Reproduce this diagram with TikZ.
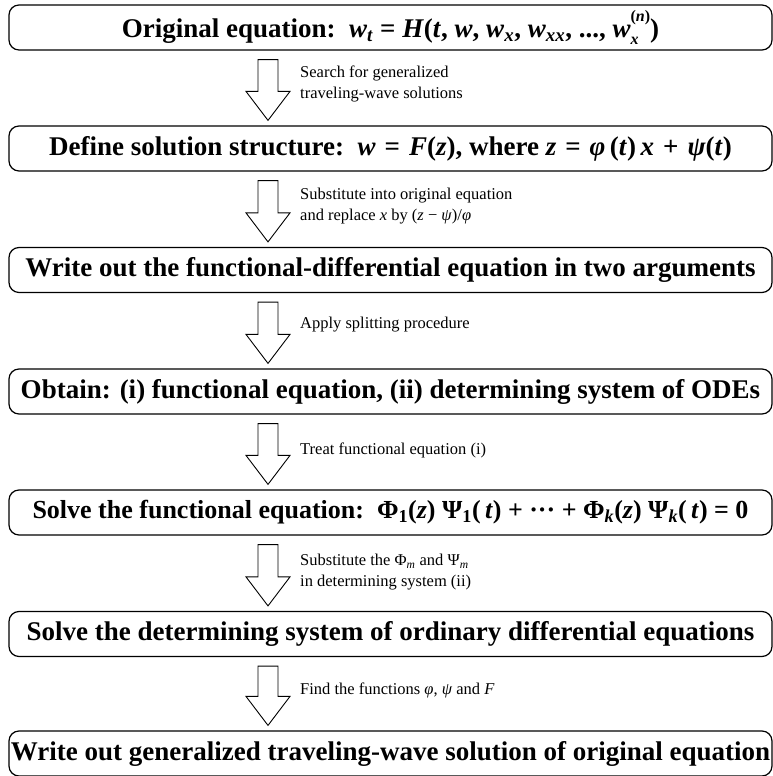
\documentclass[tikz,border=0pt]{standalone}
\usepackage{fontspec}
\setmainfont{Liberation Serif}
\usetikzlibrary{calc}
\newcommand\bi[1]{\textbf{\textit{#1}}}
\newcommand\SubSup[3]{#1\rlap{\raisebox{-0.28em}{\fontsize{16}{16}\selectfont #2}}\raisebox{0.6em}{\fontsize{16}{16}\selectfont #3}}
\newcommand\blockarrow[2]{%
  \draw[blockarr] let \p1=(#1.south), \p2=(#2.north) in
    (\AX-10pt,\y1-9pt) -- (\AX+10pt,\y1-9pt) -- (\AX+10pt,\y2+34pt)
    -- (\AX+22pt,\y2+34pt) -- (\AX,\y2+5pt) -- (\AX-22pt,\y2+34pt)
    -- (\AX-10pt,\y2+34pt) -- cycle;}
\def\AX{268pt}
\tikzset{
  box/.style={draw, line width=1.2pt, rounded corners=10pt, minimum width=763pt,
    minimum height=45pt, inner sep=0pt, font=\fontsize{27}{30}\selectfont\bfseries},
  blockarr/.style={draw, line width=0.9pt, fill=white, line join=miter},
  lab/.style={anchor=west, align=left, inner sep=0pt, font=\fontsize{16.5}{21}\selectfont}
}
\begin{document}
\begin{tikzpicture}[x=1pt,y=1pt]
\useasboundingbox (0,0) rectangle (773,776);
\node[box] (b1) at (390.5,748.5) {Original equation:\ \ \bi{w}\textsubscript{\bi{t}} = \bi{H}(\bi{t}, \bi{w}, \bi{w}\textsubscript{\bi{x}}, \bi{w}\textsubscript{\bi{xx}}, ..., \SubSup{\bi{w}}{\bi{x}}{(\bi{n})})};
\node[box] (b2) at (390.5,627.5) {Define solution structure:\ \ \bi{w}\,\,=\,\,\bi{F}(\bi{z}), where \bi{z}\,\,=\,\,\bi{φ}\,(\bi{t})\,\bi{x}\,\,+\,\,\bi{ψ}(\bi{t})};
\node[box] (b3) at (390.5,506) {Write out the functional-differential equation in two arguments};
\node[box] (b4) at (390.5,384.5) {Obtain: (i) functional equation, (ii) determining system of ODEs};
\node[box, font=\fontsize{26}{29}\selectfont\bfseries] (b5) at (390.5,263.5) {Solve the functional equation:\ \ Φ\textsubscript{1}(\bi{z}) Ψ\textsubscript{1}(\,\bi{t}) + ··· + Φ\textsubscript{\bi{k}}(\bi{z}) Ψ\textsubscript{\bi{k}}(\,\bi{t}) = 0};
\node[box] (b6) at (390.5,142) {Solve the determining system of ordinary differential equations};
\node[box] (b7) at (390.5,22.5) {Write out generalized traveling-wave solution of original equation};
\blockarrow{b1}{b2}
\blockarrow{b2}{b3}
\blockarrow{b3}{b4}
\blockarrow{b4}{b5}
\blockarrow{b5}{b6}
\blockarrow{b6}{b7}
\node[lab] (l1) at (300,692) {Search for generalized\\traveling-wave solutions};
\node[lab] (l2) at (300,570) {Substitute into original equation\\and replace \textit{x} by (\textit{z} − \textit{ψ})/\textit{φ}};
\node[lab] (l3) at (300,451) {Apply splitting procedure};
\node[lab] (l4) at (300,326) {Treat functional equation (i)};
\node[lab] (l5) at (300,204) {Substitute the Φ\textsubscript{\textit{m}} and Ψ\textsubscript{\textit{m}}\\in determining system (ii)};
\node[lab] (l6) at (300,86) {Find the functions \textit{φ}, \textit{ψ} and \textit{F}};
\end{tikzpicture}
\end{document}
